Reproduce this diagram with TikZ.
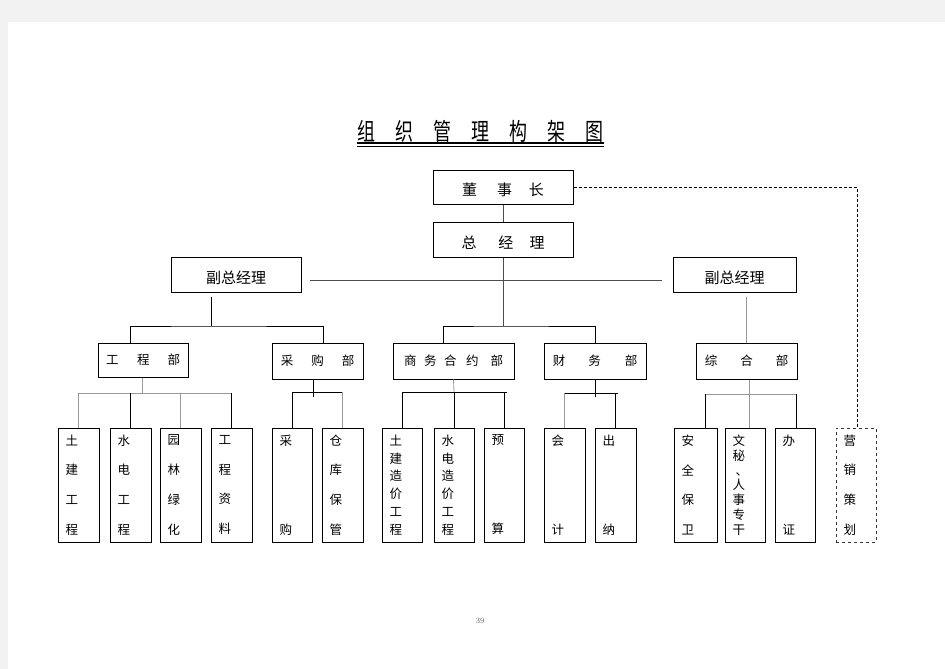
\documentclass[tikz,border=0pt]{standalone}
\usepackage{graphicx}
\usepackage{fontspec}
\newfontfamily\cjk{Noto Sans CJK SC}
\newcommand\tch[1]{\scalebox{0.75}[1]{#1}}
\begin{document}
\begin{tikzpicture}[x=1pt,y=-1pt,
  box/.style={draw=black, line width=1pt, fill=white, inner sep=0pt},
  topbox/.style={box, text height=19pt, text depth=2pt, font=\cjk\fontsize{15}{18}\selectfont},
  dept/.style={box, font=\cjk\fontsize{12.5}{15}\selectfont},
  leaf/.style={draw=black, line width=1pt, fill=white, inner xsep=7.5pt, inner ysep=0pt,
     minimum height=114pt, align=left, font=\cjk\fontsize{12.5}{#1}\selectfont},
  conn/.style={line width=0.8pt, draw=black},
  gconn/.style={line width=0.8pt, draw=black!40},
  mconn/.style={line width=0.8pt, draw=black!70},
  dconn/.style={line width=0.9pt, draw=black, dash pattern=on 3pt off 2pt},
]
\useasboundingbox (0,0) rectangle (945,669);
\fill[black!5] (0,0) rectangle (945,669);
\fill[white] (8,22) rectangle (945,669);

% title
\node[inner sep=0pt, font=\cjk\fontsize{24}{28}\selectfont] (title) at (480,131)
  {\tch{组}\hspace{20pt}\tch{织}\hspace{20pt}\tch{管}\hspace{20pt}\tch{理}\hspace{20pt}\tch{构}\hspace{20pt}\tch{架}\hspace{20pt}\tch{图}};
\draw[line width=1.3pt] (357,143) -- (604,143);
\draw[line width=0.8pt] (357,146.5) -- (604,146.5);

% top
\node[topbox, minimum width=140pt, minimum height=34pt] (ceo) at (503,187) {董\hspace{20pt}事\hspace{17pt}长};
\node[topbox, minimum width=140pt, minimum height=35pt] (gm) at (503,239.5) {总\hspace{22pt}经\hspace{16pt}理};
\node[topbox, minimum width=130pt, minimum height=35pt] (vpL) at (236,274.5) {副总经理};
\node[topbox, minimum width=123pt, minimum height=35pt] (vpR) at (734.5,274.5) {副总经理};

% departments
\node[dept, minimum width=90pt, minimum height=34pt] (dGC) at (143,360) {工\hspace{18.5pt}程\hspace{18pt}部};
\node[dept, minimum width=91pt, minimum height=36pt] (dPU) at (317.5,361) {采\hspace{18pt}购\hspace{18pt}部};
\node[dept, minimum width=121pt, minimum height=36pt] (dBC) at (453.5,361) {商\hspace{7.5pt}务\hspace{7.5pt}合\hspace{9.5pt}约\hspace{12pt}部};
\node[dept, minimum width=102pt, minimum height=36pt] (dFI) at (595,361) {财\hspace{23pt}务\hspace{24pt}部};
\node[dept, minimum width=101pt, minimum height=36pt] (dGA) at (746.5,361) {综\hspace{23pt}合\hspace{23pt}部};

% leaves
\node[leaf=29.7, text width=26pt] (l1) at (78.5,485) {土\\建\\工\\程};
\node[leaf=29.7, text width=26pt] (l2) at (130.5,485) {水\\电\\工\\程};
\node[leaf=29.7, text width=26pt] (l3) at (180.5,485) {园\\林\\绿\\化};
\node[leaf=29.7, text width=26pt] (l4) at (231.5,485) {工\\程\\资\\料};
\node[leaf=89, text width=25pt] (l5) at (292,485) {采\\购};
\node[leaf=29.7, text width=26pt] (l6) at (342.5,485) {仓\\库\\保\\管};
\node[leaf=17.8, text width=25pt] (l7) at (402,485) {土\\建\\造\\价\\工\\程};
\node[leaf=17.8, text width=25pt] (l8) at (454,485) {水\\电\\造\\价\\工\\程};
\node[leaf=89, text width=25pt] (l9) at (504,485) {预\\算};
\node[leaf=89, text width=26pt] (l10) at (564.5,485) {会\\计};
\node[leaf=89, text width=26pt] (l11) at (615.5,485) {出\\纳};
\node[leaf=29.7, text width=28pt] (l12) at (695.5,485) {安\\全\\保\\卫};
\node[leaf=14.8, text width=25pt] (l13) at (745,485) {文\\秘\\\hspace{3pt}、\\人\\事\\专\\干};
\node[leaf=89, text width=25pt] (l14) at (795,485) {办\\证};
\node[leaf=29.7, text width=25pt, dashed, draw=black!80] (l15) at (856,485) {营\\销\\策\\划};

% page number
\node[text=black!65, font=\fontsize{8}{9}\selectfont] (pg) at (480,621) {39};

% connectors: top
\draw[mconn] (ceo.south) -- (gm.north);
\coordinate (bC) at (503,326);
\draw[mconn] (gm.south) -- (bC);
\draw[conn] ([xshift=-10.5pt]dBC.north) |- (bC) -| (dFI.north);
\coordinate (hL) at (310,280);
\coordinate (hR) at (662,280);
\draw[mconn] (hL) -- (hR);
\draw[dconn] (ceo.east) -| ([xshift=1pt]l15.north);

% left vice
\coordinate (vpLa) at (211,297);
\coordinate (bL) at (211,326);
\draw[conn] (vpLa) -- (bL);
\draw[conn] ([xshift=-13pt]dGC.north) |- (bL) -| ([xshift=5.5pt]dPU.north);

% right vice
\coordinate (vpRa) at (746.5,297);
\draw[gconn] (vpRa) -- (dGA.north);

% engineering dept
\coordinate (bGC) at (142,393);
\draw[gconn] ([xshift=-1pt]dGC.south) -- (bGC);
\draw[gconn] (l1.north |- bGC) -- (l4.north |- bGC);
\draw[gconn] (l1.north) -- (l1.north |- bGC);
\draw[conn] (l2.north) -- (l2.north |- bGC);
\draw[gconn] (l3.north) -- (l3.north |- bGC);
\draw[conn] (l4.north) -- (l4.north |- bGC);

% purchasing
\coordinate (bPU) at (313,392);
\draw[conn] ([xshift=-4.5pt]dPU.south) -- ([yshift=-5pt]bPU);
\draw[conn] (l5.north) |- (l6.north |- bPU);
\draw[gconn] (l6.north) -- (l6.north |- bPU);

% business contracts
\coordinate (bBC) at (454,392);
\draw[gconn] (dBC.south) -- (bBC);
\draw[conn] (l7.north |- bBC) -- ([xshift=3pt]l9.north |- bBC);
\draw[conn] (l7.north) -- (l7.north |- bBC);
\draw[conn] (l8.north) -- (l8.north |- bBC);
\draw[conn] (l9.north) -- (l9.north |- bBC);

% finance
\coordinate (bFI) at (595,393);
\draw[conn] (dFI.south) -- ([yshift=-4pt]bFI);
\draw[conn] (l10.north |- bFI) -- ([xshift=2pt]l11.north |- bFI);
\draw[gconn] (l10.north) -- (l10.north |- bFI);
\draw[conn] (l11.north) -- (l11.north |- bFI);

% general affairs
\coordinate (bGA) at (749,394);
\draw[gconn] ([xshift=2.5pt]dGA.south) -- ([xshift=4pt]l13.north);
\draw[gconn] ([xshift=9.5pt]l12.north |- bGA) -- ([xshift=1pt]l14.north |- bGA);
\draw[conn] ([xshift=9.5pt]l12.north) -- ([xshift=9.5pt]l12.north |- bGA);
\draw[conn] ([xshift=1pt]l14.north) -- ([xshift=1pt]l14.north |- bGA);
\end{tikzpicture}
\end{document}
